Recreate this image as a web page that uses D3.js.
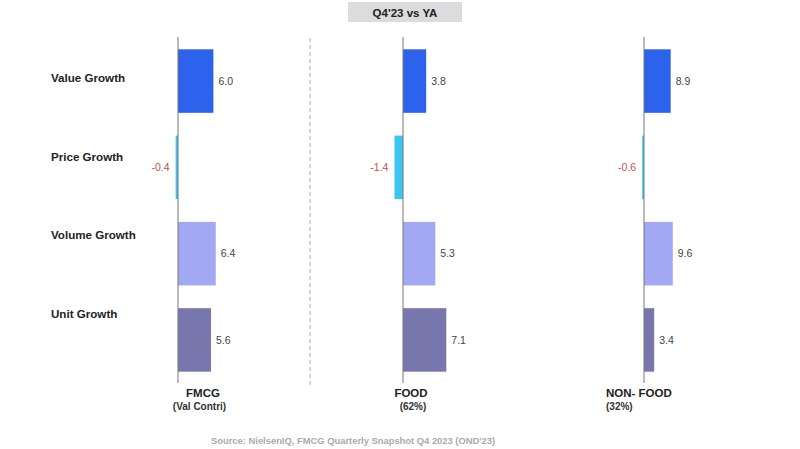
<!DOCTYPE html>
<html><head><meta charset="utf-8">
<script src="https://cdn.jsdelivr.net/npm/d3@7"></script>
<style>body{margin:0;background:#fff;}svg{display:block;}</style>
</head><body>
<svg id="chart" width="800" height="449"></svg>
<script>
const title = "Q4'23 vs YA";
const metrics = ["Value Growth", "Price Growth", "Volume Growth", "Unit Growth"];
const panels = ["FMCG", "FOOD", "NON- FOOD"];
const panelSubs = ["(Val Contri)", "(62%)", "(32%)"];
const fmcgValues = [6.0, -0.4, 6.4, 5.6];
const foodValues = [3.8, -1.4, 5.3, 7.1];
const nonFoodValues = [8.9, -0.6, 9.6, 3.4];
const source = "Source: NielsenIQ, FMCG Quarterly Snapshot Q4 2023 (OND'23)";

const colors = ["#2c62ec", "#3ac6f0", "#a2a8f2", "#7777ad"];
const svg = d3.select("#chart");
const font = "Arial, 'Liberation Sans', sans-serif";

// title box
svg.append("rect").attr("x", 348).attr("y", 2).attr("width", 114).attr("height", 20).attr("fill", "#dcdcdc");
svg.append("text").attr("x", 405).attr("y", 16.5).attr("text-anchor", "middle")
  .attr("font-family", font).attr("font-weight", "bold").attr("font-size", 11.5).attr("fill", "#222").text(title);

const y = d3.scaleBand().domain(metrics).range([40, 381]).paddingInner(0.264).paddingOuter(0.108);
const yLab = d3.scalePoint().domain(metrics).range([78, 314]);

// metric labels
svg.append("g").selectAll("text").data(metrics).join("text")
  .attr("x", 51).attr("y", d => yLab(d)).attr("dy", "0.35em")
  .attr("font-family", font).attr("font-weight", "bold").attr("font-size", 11.6).attr("fill", "#222").text(d => d);

// dashed separator
svg.append("line").attr("x1", 310).attr("x2", 310).attr("y1", 38).attr("y2", 385)
  .attr("stroke", "#aaa").attr("stroke-width", 1).attr("stroke-dasharray", "4,3");

const panelDefs = [
  {name: panels[0], sub: panelSubs[0], values: fmcgValues, axisX: 178, pxPer10: 59, labX: 203, subX: 199.5, anchor: "middle"},
  {name: panels[1], sub: panelSubs[1], values: foodValues, axisX: 403, pxPer10: 61, labX: 411, subX: 413, anchor: "middle"},
  {name: panels[2], sub: panelSubs[2], values: nonFoodValues, axisX: 644, pxPer10: 30, labX: 606, subX: 606, anchor: "start"}
];

panelDefs.forEach(p => {
  const x = d3.scaleLinear().domain([0, 10]).range([p.axisX, p.axisX + p.pxPer10]);
  const g = svg.append("g");
  const data = metrics.map((m, i) => ({m, v: p.values[i], c: colors[i]}));
  g.selectAll("rect").data(data).join("rect")
    .attr("x", d => Math.min(x(0), x(d.v)))
    .attr("width", d => Math.abs(x(d.v) - x(0)))
    .attr("y", d => y(d.m)).attr("height", y.bandwidth())
    .attr("fill", d => d.c);
  g.append("line").attr("x1", x(0)).attr("x2", x(0)).attr("y1", 37).attr("y2", 383)
    .attr("stroke", "#777").attr("stroke-width", 1);
  g.selectAll("text.val").data(data).join("text").attr("class", "val")
    .attr("x", d => d.v >= 0 ? x(d.v) + 5 : x(d.v) - 6)
    .attr("y", d => y(d.m) + y.bandwidth() / 2).attr("dy", "0.35em")
    .attr("text-anchor", d => d.v >= 0 ? "start" : "end")
    .attr("font-family", font).attr("font-size", 10.5)
    .attr("fill", d => d.v >= 0 ? "#444" : "#c0504d")
    .text(d => d.v.toFixed(1));
  g.append("text").attr("x", p.labX).attr("y", 397).attr("text-anchor", p.anchor)
    .attr("font-family", font).attr("font-weight", "bold").attr("font-size", 11.5).attr("fill", "#222").text(p.name);
  g.append("text").attr("x", p.subX).attr("y", 410).attr("text-anchor", p.anchor)
    .attr("font-family", font).attr("font-weight", "bold").attr("font-size", 10).attr("fill", "#333").text(p.sub);
});

svg.append("text").attr("x", 211).attr("y", 444)
  .attr("font-family", font).attr("font-weight", "bold").attr("font-size", 9.4).attr("fill", "#aaa").text(source);
</script>
</body></html>
